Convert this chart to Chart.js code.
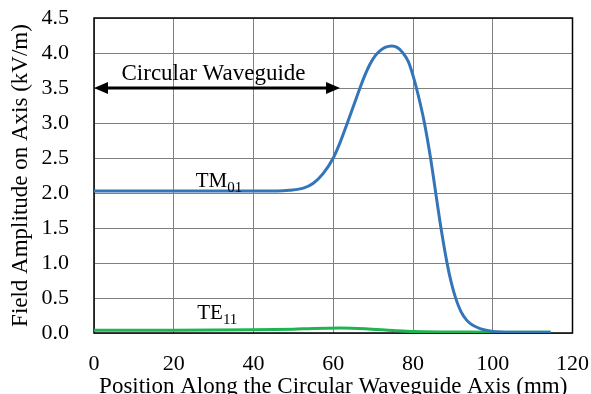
<!DOCTYPE html>
<html lang="en">
<head>
<meta charset="UTF-8">
<title>Field Amplitude on Axis</title>
<script src="https://cdn.jsdelivr.net/npm/chart.js@4.4.0/dist/chart.umd.min.js"></script>
<style>
  * { margin:0; padding:0; box-sizing:border-box; }
  body { background:#fff; width:591px; height:394px; overflow:hidden; }
  .wrap { position:relative; width:591px; height:394px; }
</style>
</head>
<body>
<div class="wrap"><canvas id="chart" width="591" height="394"></canvas></div>

<script>
// TM01 field amplitude along the axis (mm, kV/m)
const tmX = [0, 10, 20, 30, 40, 46, 49, 52.5, 55, 57.5, 60, 61.7, 63.4, 65.5, 66.7, 68, 69.2, 70.5, 71.7, 73, 74.7, 76, 77.2, 78.8, 80.1, 81.3, 82.8, 84.4, 85.7, 87.1, 88.6, 89.6, 90.8, 92, 93.5, 95, 97, 99.3, 102, 108, 114.5];
const tmY = [2.03, 2.03, 2.03, 2.03, 2.03, 2.03, 2.04, 2.07, 2.14, 2.28, 2.50, 2.72, 2.98, 3.31, 3.50, 3.69, 3.84, 3.96, 4.03, 4.08, 4.10, 4.08, 4.02, 3.88, 3.66, 3.40, 3.02, 2.50, 2.00, 1.47, 0.98, 0.72, 0.48, 0.31, 0.18, 0.11, 0.06, 0.03, 0.015, 0.01, 0.01];
// TE11 field amplitude along the axis
const teX = [0, 20, 40, 50, 55, 62, 68, 75, 80, 90, 100, 114.5];
const teY = [0.04, 0.04, 0.045, 0.055, 0.065, 0.07, 0.06, 0.035, 0.02, 0.015, 0.01, 0.01];

const xTicks = [0, 20, 40, 60, 80, 100, 120];
const yTicks = [0.0, 0.5, 1.0, 1.5, 2.0, 2.5, 3.0, 3.5, 4.0, 4.5];

// annotation (data units)
const arrowFrom = 0, arrowTo = 61.7, arrowAt = 3.5;
const waveguideText = 'Circular Waveguide';
const xTitle = 'Position Along the Circular Waveguide Axis (mm)';
const yTitle = 'Field Amplitude on Axis (kV/m)';

const serif = "'Liberation Serif','Times New Roman',serif";
const toPts = (xs, ys) => xs.map((x, i) => ({ x, y: ys[i] }));

const extras = {
  id: 'extras',
  beforeDatasetsDraw(chart) {
    const { ctx, chartArea: a } = chart;
    ctx.save();
    ctx.strokeStyle = '#000';
    ctx.lineWidth = 1.5;
    ctx.strokeRect(a.left, a.top, a.right - a.left, a.bottom - a.top);
    ctx.restore();
  },
  afterDatasetsDraw(chart) {
    const { ctx, chartArea: a, scales: { x, y } } = chart;
    ctx.save();
    ctx.fillStyle = '#000';
    ctx.strokeStyle = '#000';

    // double arrow
    const y0 = y.getPixelForValue(arrowAt);
    const x0 = x.getPixelForValue(arrowFrom), x1 = x.getPixelForValue(arrowTo);
    ctx.lineWidth = 3;
    ctx.beginPath(); ctx.moveTo(x0 + 10, y0); ctx.lineTo(x1 - 10, y0); ctx.stroke();
    ctx.beginPath(); ctx.moveTo(x0, y0); ctx.lineTo(x0 + 14, y0 - 6); ctx.lineTo(x0 + 14, y0 + 6); ctx.closePath(); ctx.fill();
    ctx.beginPath(); ctx.moveTo(x1, y0); ctx.lineTo(x1 - 14, y0 - 6); ctx.lineTo(x1 - 14, y0 + 6); ctx.closePath(); ctx.fill();

    ctx.textBaseline = 'alphabetic';
    ctx.textAlign = 'left';
    ctx.font = '23px ' + serif;
    ctx.fillText(waveguideText, x.getPixelForValue(6.9), y.getPixelForValue(3.61));

    // mode labels with subscripts
    const label = (main, sub, xv, yv) => {
      const px = x.getPixelForValue(xv), py = y.getPixelForValue(yv);
      ctx.font = '21px ' + serif;
      ctx.fillText(main, px, py);
      const w = ctx.measureText(main).width;
      ctx.font = '15px ' + serif;
      ctx.fillText(sub, px + w, py + 5);
    };
    label('TM', '01', 25.5, 2.09);
    label('TE', '11', 25.9, 0.2);

    // axis titles
    ctx.font = '23px ' + serif;
    ctx.textAlign = 'center';
    ctx.fillText(xTitle, (a.left + a.right) / 2, 393);
    ctx.translate(27, (a.top + a.bottom) / 2);
    ctx.rotate(-Math.PI / 2);
    ctx.fillText(yTitle, 0, 0);
    ctx.restore();
  }
};

new Chart(document.getElementById('chart'), {
  type: 'line',
  data: {
    datasets: [
      { label: 'TM01', data: toPts(tmX, tmY), borderColor: '#3474b8', borderWidth: 3, pointRadius: 0, cubicInterpolationMode: 'monotone', fill: false },
      { label: 'TE11', data: toPts(teX, teY), borderColor: '#1db552', borderWidth: 3, pointRadius: 0, cubicInterpolationMode: 'monotone', fill: false }
    ]
  },
  options: {
    responsive: false,
    animation: false,
    layout: { padding: { top: 18, right: 18.5, left: 0, bottom: 0 } },
    plugins: { legend: { display: false }, tooltip: { enabled: false } },
    scales: {
      x: {
        type: 'linear', min: 0, max: 120,
        afterBuildTicks: s => { s.ticks = xTicks.map(v => ({ value: v })); },
        afterFit: s => { s.height = 61; s.paddingLeft = 0; s.paddingRight = 0; },
        grid: { color: '#808080', lineWidth: 1, drawTicks: false },
        border: { display: false },
        ticks: { padding: 18, color: '#000', font: { family: serif, size: 22 }, maxRotation: 0 }
      },
      y: {
        min: 0, max: 4.5,
        afterBuildTicks: s => { s.ticks = yTicks.map(v => ({ value: v })); },
        afterFit: s => { s.width = 94; s.paddingTop = 0; s.paddingBottom = 0; },
        grid: { color: '#808080', lineWidth: 1, drawTicks: false },
        border: { display: false },
        ticks: { padding: 25, color: '#000', font: { family: serif, size: 22 }, callback: v => v.toFixed(1) }
      }
    }
  },
  plugins: [extras]
});
</script>
</body>
</html>
